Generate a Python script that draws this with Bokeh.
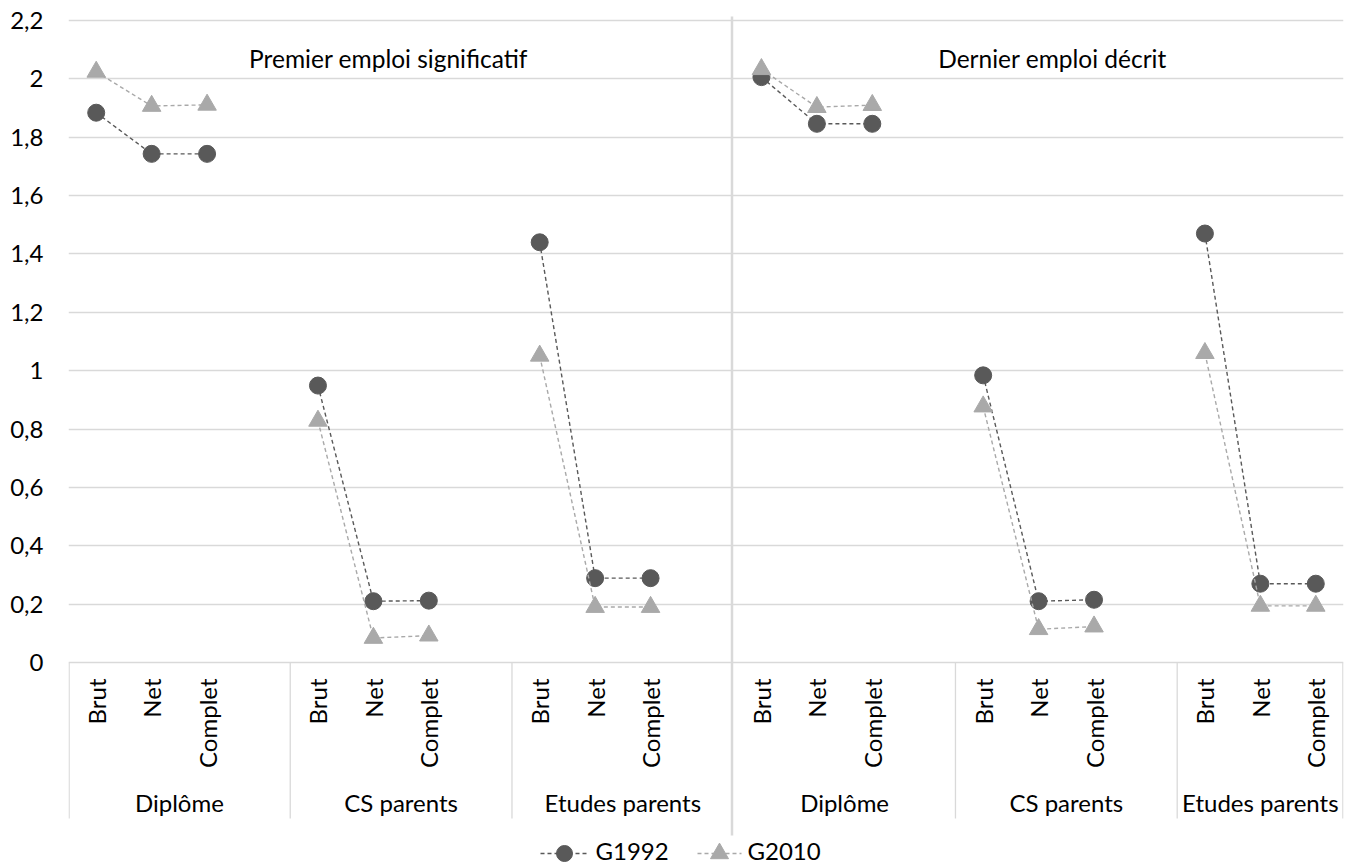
import math
from bokeh.plotting import figure
from bokeh.models import Range1d, FixedTicker, CustomJSTickFormatter
from bokeh.embed import file_html
from bokeh.resources import INLINE
from bokeh.core.properties import value

# ---------------- data ----------------
panels = ["Premier emploi significatif", "Dernier emploi décrit"]
groups = ["Diplôme", "CS parents", "Etudes parents"]
measures = ["Brut", "Net", "Complet"]
series_names = ["G1992", "G2010"]

# order: Diplôme (Brut, Net, Complet), CS parents (...), Etudes parents (...)
g1992_premier = [1.884, 1.743, 1.743, 0.949, 0.210, 0.212, 1.440, 0.289, 0.289]
g2010_premier = [2.024, 1.907, 1.911, 0.828, 0.084, 0.092, 1.051, 0.190, 0.190]
g1992_dernier = [2.006, 1.846, 1.846, 0.984, 0.210, 0.215, 1.470, 0.270, 0.270]
g2010_dernier = [2.033, 1.903, 1.910, 0.877, 0.114, 0.123, 1.060, 0.194, 0.194]

yticks = [0, 0.2, 0.4, 0.6, 0.8, 1, 1.2, 1.4, 1.6, 1.8, 2, 2.2]
ytick_labels = ["0", "0,2", "0,4", "0,6", "0,8", "1", "1,2", "1,4", "1,6", "1,8", "2", "2,2"]

# ---------------- layout helpers ----------------
FONT = value("Lato")
FS = "24px"
FS_TITLE = "24.5px"
DARK = "#595959"
LIGHT = "#A9A9A9"
GRID = "#D9D9D9"

W, H = 1354, 864
FRAME_LEFT, FRAME_RIGHT = 68, 1343
Y0_PX, YTOP_PX = 662, 20          # pixel of 0 and 2.2
PX_PER_UNIT = (Y0_PX - YTOP_PX) / 2.2
N_SLOTS = 23
SLOT_W = (FRAME_RIGHT - FRAME_LEFT) / N_SLOTS
MIN_TOP = 10


def py(pix_y):
    return (Y0_PX - pix_y) / PX_PER_UNIT


def px(pix_x):
    return (pix_x - FRAME_LEFT) / SLOT_W - 0.5


p = figure(width=W, height=H, output_backend="svg", toolbar_location=None,
           x_range=Range1d(-0.5, N_SLOTS - 0.5),
           y_range=Range1d(py(H), py(MIN_TOP)),
           x_axis_location=None, min_border_left=FRAME_LEFT,
           min_border_right=W - FRAME_RIGHT, min_border_top=MIN_TOP,
           min_border_bottom=0)
p.outline_line_color = None
p.background_fill_color = "white"
p.border_fill_color = "white"
p.xgrid.visible = False
p.ygrid.ticker = FixedTicker(ticks=yticks)
p.ygrid.grid_line_color = GRID
p.ygrid.grid_line_width = 1.3

ax = p.yaxis[0]
ax.ticker = FixedTicker(ticks=yticks)
ax.formatter = CustomJSTickFormatter(args=dict(tvals=yticks, tlabs=ytick_labels), code="""
    for (let i = 0; i < tvals.length; i++) {
        if (Math.abs(tvals[i] - tick) < 1e-9) { return tlabs[i]; }
    }
    return "";
""")
ax.axis_line_color = None
ax.major_tick_line_color = None
ax.minor_tick_line_color = None
ax.major_tick_out = 0
ax.major_tick_in = 0
ax.major_label_standoff = 25
ax.major_label_text_font = "Lato"
ax.major_label_text_font_size = FS
ax.major_label_text_color = "#000000"


def slot(pi, gi, mi):
    return (pi * len(groups) + gi) * 4 + mi


cat_bottom = py(818)

# category separators
sep_x = [px(FRAME_LEFT + 0.6)]
for pi in range(len(panels)):
    for gi in range(len(groups)):
        if gi != 0:
            sep_x.append(slot(pi, gi, 0) - 0.5)
sep_x.append(px(FRAME_RIGHT - 0.6))
p.segment(x0=sep_x, y0=[0] * len(sep_x), x1=sep_x, y1=[cat_bottom] * len(sep_x),
          line_color=GRID, line_width=1.3)
# panel separator
mid_x = px(731.5)
p.segment(x0=[mid_x], y0=[py(16)], x1=[mid_x], y1=[py(835)], line_color=GRID, line_width=2.5)

# measure labels (rotated)
lab_x, lab_t = [], []
for pi in range(len(panels)):
    for gi in range(len(groups)):
        for mi, m in enumerate(measures):
            lab_x.append(slot(pi, gi, mi))
            lab_t.append(m)
p.text(x=lab_x, y=[py(678)] * len(lab_x), text=lab_t, angle=math.pi / 2,
       text_align="right", text_baseline="middle", text_font=FONT,
       text_font_size=FS, text_color="#000000")

# group labels
gx, gt = [], []
for pi in range(len(panels)):
    for gi, g in enumerate(groups):
        s0 = slot(pi, gi, 0) - 0.5
        s1 = min(s0 + 4, N_SLOTS - 0.5)
        gx.append((s0 + s1) / 2)
        gt.append(g)
p.text(x=gx, y=[py(802)] * len(gx), text=gt, text_align="center",
       text_baseline="middle", text_font=FONT, text_font_size=FS, text_color="#000000")

# panel titles
p.text(x=[px(388), px(1052)], y=[py(57.5)] * 2, text=panels, text_align="center",
       text_baseline="alphabetic", text_font=FONT, text_font_size=FS_TITLE,
       text_color="#000000")

# series
series = [
    ("G1992", [g1992_premier, g1992_dernier], DARK, "circle", 17),
    ("G2010", [g2010_premier, g2010_dernier], LIGHT, "triangle", 18.5),
]
for name, vals_by_panel, col, marker, size in series:
    xs, ys, mx, my = [], [], [], []
    for pi, vals in enumerate(vals_by_panel):
        for gi in range(len(groups)):
            gxv = [slot(pi, gi, mi) for mi in range(len(measures))]
            gyv = vals[gi * 3:(gi + 1) * 3]
            xs.append(gxv)
            ys.append(gyv)
            mx += gxv
            my += gyv
    p.multi_line(xs=xs, ys=ys, line_color=col, line_width=1.4, line_dash="4 3")
    p.scatter(x=mx, y=my, marker=marker, size=size, fill_color=col, line_color=col)

# legend (manual)
leg = [("G1992", 540, 589, 564, 595, DARK, "circle", 16),
       ("G2010", 697, 741, 719, 747, LIGHT, "triangle", 18)]
for name, x0, x1, xm, xt, col, marker, size in leg:
    p.line(x=[px(x0), px(x1)], y=[py(853)] * 2, line_color=col, line_width=1.4, line_dash="4 3")
    p.scatter(x=[px(xm)], y=[py(853)], marker=marker, size=size, fill_color=col, line_color=col)
    p.text(x=[px(xt)], y=[py(850)], text=[name], text_align="left", text_baseline="middle",
           text_font=FONT, text_font_size=FS, text_color="#000000")

open("out.html", "w").write(file_html(p, INLINE))
